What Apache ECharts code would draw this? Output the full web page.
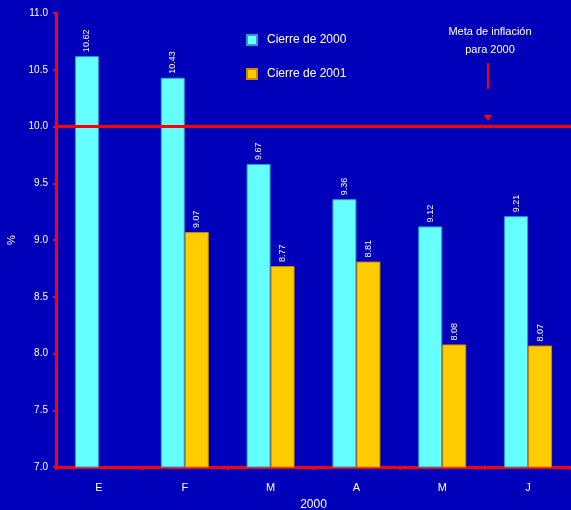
<!DOCTYPE html>
<html>
<head>
<meta charset="utf-8">
<script src="https://cdn.jsdelivr.net/npm/echarts@6/dist/echarts.min.js"></script>
<style>
  html, body {margin: 0; padding: 0; background: #0000BB;}
  #contain {width: 571px; height: 510px;}
</style>
</head>
<body>
<div id="contain"></div>
<script>
var months = ['E', 'F', 'M', 'A', 'M', 'J'];
var cierre2000 = [10.62, 10.43, 9.67, 9.36, 9.12, 9.21];
var cierre2001 = ['-', 9.07, 8.77, 8.81, 8.08, 8.07];
var metaInflacion = 10.0;

var myChart = echarts.init(document.getElementById('contain'));
var option = {
    animation: false,
    backgroundColor: '#0000BB',
    textStyle: {fontFamily: 'Liberation Sans, Arial, sans-serif'},
    legend: {
        orient: 'vertical',
        left: 241,
        top: 29,
        itemWidth: 10,
        itemHeight: 10,
        itemGap: 22,
        icon: 'rect',
        textStyle: {color: '#FFFFFF', fontSize: 12, padding: [0, 0, 0, 5]},
        data: ['Cierre de 2000', 'Cierre de 2001']
    },
    grid: {left: 56, right: 0, top: 13, bottom: 43, outerBoundsMode: 'none', containLabel: false},
    xAxis: {
        type: 'category',
        data: months,
        name: '2000',
        nameLocation: 'middle',
        nameGap: 32,
        nameTextStyle: {color: '#FFFFFF', fontSize: 12},
        axisLine: {show: true, lineStyle: {color: '#FF0000', width: 3}},
        axisTick: {show: true, length: 3, lineStyle: {color: '#FF0000', width: 2}},
        axisLabel: {color: '#FFFFFF', fontSize: 11, margin: 15}
    },
    yAxis: {
        type: 'value',
        min: 7,
        max: 11,
        interval: 0.5,
        name: '%',
        nameLocation: 'middle',
        nameGap: 37,
        nameTextStyle: {color: '#FFFFFF', fontSize: 11},
        axisLine: {show: true, lineStyle: {color: '#FF0000', width: 3}},
        axisTick: {show: true, length: 3, lineStyle: {color: '#FF0000', width: 2}},
        axisLabel: {
            color: '#FFFFFF',
            fontSize: 10,
            margin: 8,
            formatter: function (v) { return v.toFixed(1); }
        },
        splitLine: {show: false}
    },
    series: [
        {
            name: 'Cierre de 2000',
            type: 'bar',
            data: cierre2000,
            barWidth: 24,
            barGap: '0%',
            itemStyle: {color: '#66FFFF', borderColor: '#3399CC', borderWidth: 1},
            label: {
                show: true,
                position: 'top',
                rotate: 90,
                align: 'left',
                verticalAlign: 'middle',
                distance: 4,
                color: '#FFFFFF',
                fontSize: 9,
                formatter: function (p) { return p.value.toFixed(2); }
            },
            markLine: {
                silent: true,
                symbol: 'none',
                label: {show: false},
                lineStyle: {color: '#FF0000', width: 3, type: 'solid'},
                data: [{yAxis: metaInflacion}]
            }
        },
        {
            name: 'Cierre de 2001',
            type: 'bar',
            data: cierre2001,
            barWidth: 24,
            itemStyle: {color: '#FFCC00', borderColor: '#CC8800', borderWidth: 1},
            label: {
                show: true,
                position: 'top',
                rotate: 90,
                align: 'left',
                verticalAlign: 'middle',
                distance: 4,
                color: '#FFFFFF',
                fontSize: 9,
                formatter: function (p) { return p.value.toFixed(2); }
            }
        }
    ],
    graphic: [
        {
            type: 'text',
            x: 490,
            y: 23,
            style: {
                text: 'Meta de inflación\npara 2000',
                fill: '#FFFFFF',
                font: '11px Liberation Sans, Arial, sans-serif',
                align: 'center',
                lineHeight: 18
            }
        },
        {
            type: 'line',
            shape: {x1: 488, y1: 63, x2: 488, y2: 89},
            style: {stroke: '#FF0000', lineWidth: 2}
        },
        {
            type: 'polygon',
            shape: {points: [[484, 115], [492, 115], [488, 121]]},
            style: {fill: '#FF0000'}
        }
    ]
};
myChart.setOption(option);
</script>
</body>
</html>
